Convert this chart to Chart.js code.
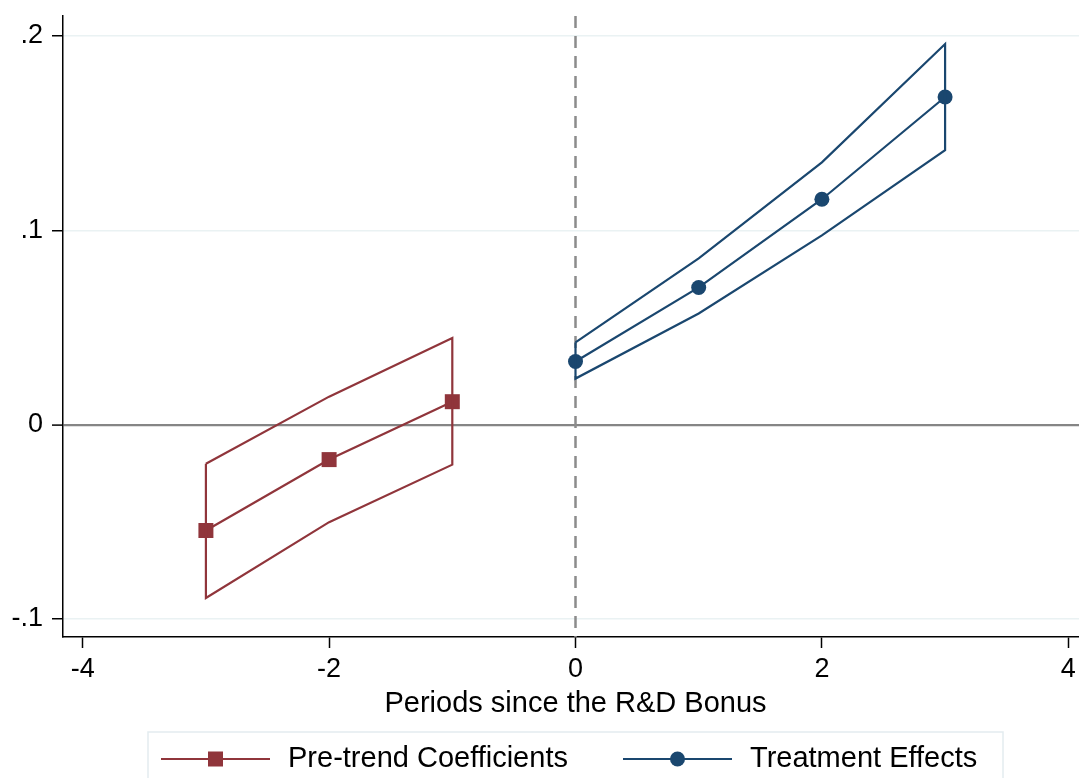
<!DOCTYPE html>
<html>
<head>
<meta charset="utf-8">
<script src="https://cdn.jsdelivr.net/npm/chart.js@4.4.0/dist/chart.umd.min.js"></script>
<style>
  html, body { margin: 0; padding: 0; background: #fff; overflow: hidden; }
  canvas { display: block; }
</style>
</head>
<body>
<canvas id="myChart" width="1088" height="778"></canvas>
<script>
// event-study estimates
const preX = [-3, -2, -1];
const preCoef = [-0.0545, -0.018, 0.0118];
const preUpper = [-0.0201, 0.0144, 0.0446];
const preLower = [-0.0892, -0.0502, -0.0206];

const postX = [0, 1, 2, 3];
const postCoef = [0.0325, 0.0706, 0.116, 0.1686];
const postUpper = [0.0423, 0.0856, 0.135, 0.1959];
const postLower = [0.0237, 0.0572, 0.0974, 0.1412];

const xTicks = [-4, -2, 0, 2, 4];
const yTicks = [-0.1, 0, 0.1, 0.2];
const yTickLabels = ['-.1', '0', '.1', '.2'];
const refX = 0;

const legendLabels = ['Pre-trend Coefficients', 'Treatment Effects'];

const RED = '#90353b';
const BLUE = '#1a476f';
const FONT = '"Liberation Sans", Arial, sans-serif';

function points(xs, ys) {
    return xs.map((x, i) => ({x: x, y: ys[i]}));
}

// outline of the confidence band: upper bound out, lower bound back, closed
function band(xs, up, lo) {
    let pts = points(xs, up);
    let back = points(xs, lo).reverse();
    return pts.concat(back, [pts[0]]);
}

const refLine = {
    id: 'refLine',
    beforeDatasetsDraw(chart) {
        const {ctx, chartArea, scales} = chart;
        const px = scales.x.getPixelForValue(refX);
        ctx.save();
        ctx.strokeStyle = '#8c8c8c';
        ctx.lineWidth = 2.5;
        ctx.setLineDash([12, 8]);
        ctx.beginPath();
        ctx.moveTo(px, chartArea.top);
        ctx.lineTo(px, chartArea.bottom);
        ctx.stroke();
        ctx.restore();
    }
};

const boxLegend = {
    id: 'boxLegend',
    afterDraw(chart) {
        const ctx = chart.ctx;
        const cx = (chart.chartArea.left + chart.chartArea.right) / 2;
        const top = 732;
        const boxW = 855;
        const left = cx - boxW / 2;
        ctx.save();
        ctx.strokeStyle = '#e3ecef';
        ctx.lineWidth = 1.5;
        ctx.strokeRect(left, top, boxW, 80);

        const rowY = 759;
        const items = [
            {x: left + 13, color: RED, style: 'rect', text: legendLabels[0]},
            {x: left + 475, color: BLUE, style: 'circle', text: legendLabels[1]}
        ];
        ctx.font = '29px ' + FONT;
        ctx.textBaseline = 'middle';
        items.forEach(it => {
            ctx.strokeStyle = it.color;
            ctx.lineWidth = 2.2;
            ctx.beginPath();
            ctx.moveTo(it.x, rowY);
            ctx.lineTo(it.x + 109, rowY);
            ctx.stroke();
            ctx.fillStyle = it.color;
            const mx = it.x + 54.5;
            if (it.style === 'rect') {
                ctx.fillRect(mx - 7.5, rowY - 7.5, 15, 15);
            } else {
                ctx.beginPath();
                ctx.arc(mx, rowY, 7.5, 0, Math.PI * 2);
                ctx.fill();
            }
            ctx.fillStyle = '#000';
            ctx.fillText(it.text, it.x + 127, rowY);
        });
        ctx.restore();
    }
};

const ctx = document.getElementById('myChart').getContext('2d');
const chart = new Chart(ctx, {
    type: 'line',
    data: {
        datasets: [
            {
                data: band(preX, preUpper, preLower),
                borderColor: RED,
                borderWidth: 2.2,
                pointRadius: 0,
                fill: false,
                tension: 0
            },
            {
                data: points(preX, preCoef),
                borderColor: RED,
                backgroundColor: RED,
                borderWidth: 2.2,
                pointStyle: 'rect',
                pointRadius: 10.6,
                pointBorderWidth: 0,
                fill: false
            },
            {
                data: band(postX, postUpper, postLower),
                borderColor: BLUE,
                borderWidth: 2.2,
                pointRadius: 0,
                fill: false,
                tension: 0
            },
            {
                data: points(postX, postCoef),
                borderColor: BLUE,
                backgroundColor: BLUE,
                borderWidth: 2.2,
                pointStyle: 'circle',
                pointRadius: 7.5,
                pointBorderWidth: 0,
                fill: false
            }
        ]
    },
    options: {
        responsive: false,
        animation: false,
        devicePixelRatio: 1,
        layout: {autoPadding: false, padding: {top: 16, right: 0, left: 0, bottom: 57}},
        plugins: {legend: {display: false}, tooltip: {enabled: false}},
        scales: {
            x: {
                type: 'linear',
                min: -4.16,
                max: 4.16,
                afterBuildTicks: s => { s.ticks = xTicks.map(v => ({value: v})); },
                afterFit: s => { s.height = 84; s.paddingLeft = 0; s.paddingRight = 0; },
                ticks: {
                    color: '#000',
                    padding: 5,
                    font: {family: FONT, size: 27},
                    callback: v => String(v)
                },
                grid: {
                    drawOnChartArea: false,
                    drawTicks: true,
                    tickLength: 11,
                    tickColor: '#000',
                    tickWidth: 1.5
                },
                border: {display: true, color: '#000', width: 1.5},
                title: {
                    display: true,
                    text: 'Periods since the R&D Bonus',
                    color: '#000',
                    padding: {top: 0, bottom: 0},
                    font: {family: FONT, size: 29}
                }
            },
            y: {
                type: 'linear',
                min: -0.1093,
                max: 0.2103,
                afterBuildTicks: s => { s.ticks = yTicks.map(v => ({value: v})); },
                afterFit: s => { s.width = 63; s.paddingTop = 0; s.paddingBottom = 0; },
                ticks: {
                    color: '#000',
                    padding: 9,
                    font: {family: FONT, size: 27},
                    callback: (v, i) => yTickLabels[i]
                },
                grid: {
                    color: c => (c.tick && c.tick.value === 0) ? '#858585' : '#eaf2f3',
                    lineWidth: c => (c.tick && c.tick.value === 0) ? 2.2 : 1.5,
                    drawTicks: true,
                    tickLength: 11,
                    tickColor: '#000',
                    tickWidth: 1.5
                },
                border: {display: true, color: '#000', width: 1.5}
            }
        }
    },
    plugins: [refLine, boxLegend]
});
</script>
</body>
</html>
